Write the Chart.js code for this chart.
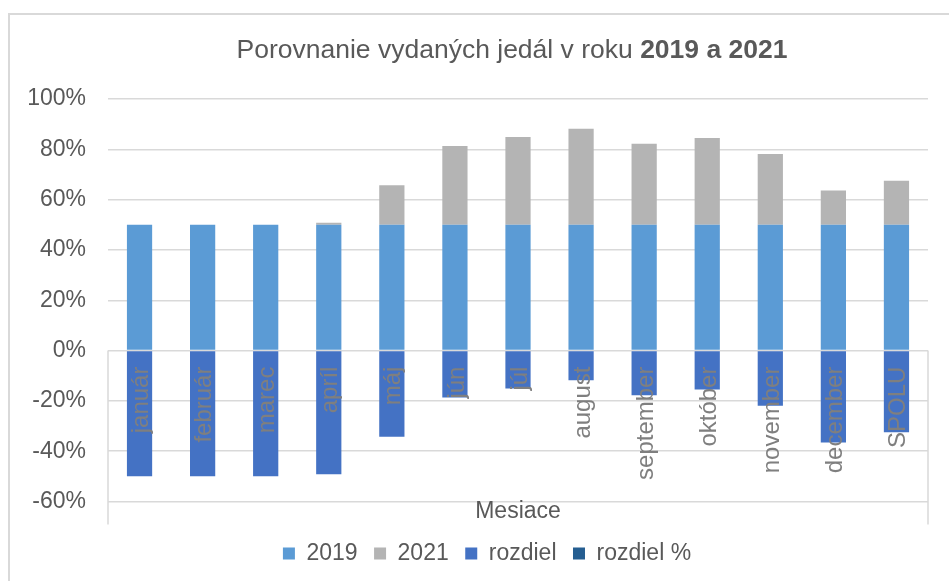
<!DOCTYPE html>
<html>
<head>
<meta charset="utf-8">
<title>Porovnanie vydaných jedál</title>
<script src="https://cdn.jsdelivr.net/npm/chart.js@4"></script>
<style>
  html, body { margin: 0; padding: 0; background: #fff; }
  body { width: 949px; height: 581px; position: relative; overflow: hidden; font-family: "Liberation Sans", Arial, sans-serif; }
  #frame { position: absolute; left: 8px; top: 13px; width: 960px; height: 600px; border: 2px solid #d9d9d9; box-sizing: border-box; }
  #box { position: absolute; left: 0; top: 0; width: 949px; height: 581px; }
</style>
</head>
<body>
<div id="frame"></div>
<div id="box"><canvas id="chart"></canvas></div>
<script>
// ── Data ───────────────────────────────────────────────────────
const months = ["január", "február", "marec", "apríl", "máj", "jún", "júl",
  "august", "september", "október", "november", "december", "SPOLU"];
const share2019 = [50, 50, 50, 50, 50, 50, 50, 50, 50, 50, 50, 50, 50];
const share2021 = [0, 0, 0, 0.8, 15.7, 31.3, 34.9, 38.2, 32.2, 34.5, 28.1, 13.6, 17.5];
const rozdiel   = [-50, -50, -50, -49.2, -34.3, -18.7, -15.1, -11.8, -17.8, -15.5, -21.9, -36.5, -32.5];
const rozdielPct = [null, null, null, null, null, null, null, null, null, null, null, null, null];
const yTicks = [-60, -40, -20, 0, 20, 40, 60, 80, 100];

const FONT = "'Liberation Sans', Arial, sans-serif";
const GRID = "#d9d9d9";
const TXT  = "#595959";

// ── Custom drawing: title, rotated month labels, axis box, axis title ──
const excelBits = {
  id: "excelBits",
  afterLayout(chart) {
    // legend is centred a bit right of the canvas middle, like in Excel
    if (chart.legend) chart.legend.left = 46;
  },
  beforeDatasetsDraw(chart) {
    const { ctx, chartArea: a, scales: { y } } = chart;
    const y0 = y.getPixelForValue(0);
    ctx.save();
    ctx.strokeStyle = GRID;
    ctx.lineWidth = 1.5;
    ctx.beginPath();
    ctx.moveTo(a.left, y0); ctx.lineTo(a.left, a.bottom + 23);
    ctx.moveTo(a.right, y0); ctx.lineTo(a.right, a.bottom + 23);
    ctx.stroke();
    ctx.restore();
  },
  afterDatasetsDraw(chart) {
    const { ctx, chartArea: a, scales: { x, y } } = chart;
    const y0 = y.getPixelForValue(0);
    ctx.save();
    ctx.font = `24px ${FONT}`;
    ctx.fillStyle = "#7f7f7f";
    ctx.textAlign = "right";
    ctx.textBaseline = "middle";
    months.forEach((m, i) => {
      ctx.save();
      ctx.translate(x.getPixelForValue(i) + 2, y0 + 16);
      ctx.rotate(-Math.PI / 2);
      ctx.fillText(m, 0, 0);
      ctx.restore();
    });

    // axis title
    ctx.font = `23px ${FONT}`;
    ctx.fillStyle = TXT;
    ctx.textAlign = "center";
    ctx.textBaseline = "alphabetic";
    ctx.fillText("Mesiace", (a.left + a.right) / 2, a.bottom + 16);

    // chart title, normal + bold part
    const p1 = "Porovnanie vydaných jedál v roku ";
    const p2 = "2019 a 2021";
    ctx.font = `26.5px ${FONT}`;
    const w1 = ctx.measureText(p1).width;
    ctx.font = `bold 26.5px ${FONT}`;
    const w2 = ctx.measureText(p2).width;
    const left = 512 - (w1 + w2) / 2;
    ctx.textAlign = "left";
    ctx.font = `26.5px ${FONT}`;
    ctx.fillText(p1, left, 58);
    ctx.font = `bold 26.5px ${FONT}`;
    ctx.fillText(p2, left + w1, 58);
    ctx.restore();
  },
};

new Chart(document.getElementById("chart"), {
  type: "bar",
  data: {
    labels: months,
    datasets: [
      { label: "2019", data: share2019, backgroundColor: "#5b9bd5" },
      { label: "2021", data: share2021, backgroundColor: "#b4b4b4" },
      { label: "rozdiel", data: rozdiel, backgroundColor: "#4472c4" },
      { label: "rozdiel %", data: rozdielPct, backgroundColor: "#255e91" },
    ],
  },
  options: {
    responsive: true,
    maintainAspectRatio: false,
    animation: false,
    datasets: { bar: { categoryPercentage: 1, barPercentage: 0.4, stack: "s" } },
    layout: { padding: { top: 99, right: 21, bottom: 6, left: 0 } },
    plugins: {
      title: { display: false },
      tooltip: { enabled: false },
      legend: {
        position: "bottom",
        labels: { boxWidth: 12, boxHeight: 12, padding: 16.5, color: TXT, font: { family: FONT, size: 23 } },
      },
    },
    scales: {
      x: {
        stacked: true,
        grid: { display: false },
        border: { display: false },
        ticks: { display: false },
        afterFit: (s) => { s.height = 24; },
      },
      y: {
        stacked: true,
        min: -60,
        max: 100,
        afterBuildTicks: (s) => { s.ticks = yTicks.map((v) => ({ value: v })); },
        afterFit: (s) => { s.width = 108; },
        grid: { color: GRID, lineWidth: 1.5, drawTicks: false },
        border: { display: false },
        ticks: {
          padding: 22,
          color: TXT,
          font: { family: FONT, size: 23 },
          callback: (v) => v + "%",
        },
      },
    },
  },
  plugins: [excelBits],
});
</script>
</body>
</html>
